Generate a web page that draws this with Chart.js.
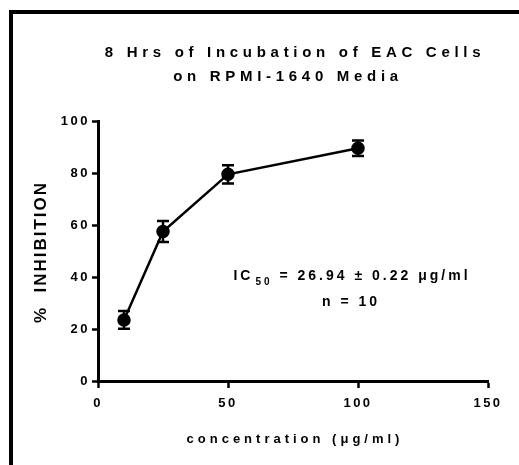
<!DOCTYPE html>
<html>
<head>
<meta charset="utf-8">
<script src="https://cdn.jsdelivr.net/npm/chart.js@4"></script>
<style>
  html, body { margin: 0; padding: 0; background: #fff; }
  #wrap { width: 519px; height: 465px; }
</style>
</head>
<body>
<div id="wrap"><canvas id="chart"></canvas></div>
<script>
const concentrations = [10, 25, 50, 100];
const inhibition = [23.5, 57.5, 79.5, 89.5];
const errors = [3.4, 4, 3.5, 3];

const xTicks = [0, 50, 100, 150];
const yTicks = [0, 20, 40, 60, 80, 100];

const titleLines = ['8 Hrs of Incubation of EAC Cells', 'on RPMI-1640 Media'];
const xLabel = 'concentration (μg/ml)';
const yLabel = '%  INHIBITION';
const icText = ['IC', '50', ' = 26.94 ± 0.22 μg/ml'];
const nText = 'n = 10';

const FONT = "'Liberation Sans', Arial, sans-serif";

// letter spacing for tick text (canvas state is reset on resize)
const spacing = {
  id: 'spacing',
  beforeLayout(chart) { chart.ctx.letterSpacing = '2.5px'; },
  beforeDraw(chart) { chart.ctx.letterSpacing = '2.5px'; }
};

const frame = {
  id: 'frame',
  beforeDraw(chart) {
    const ctx = chart.ctx;
    ctx.save();
    ctx.fillStyle = '#fff';
    ctx.fillRect(0, 0, chart.width, chart.height);
    ctx.strokeStyle = '#000';
    ctx.lineWidth = 4;
    ctx.beginPath();
    ctx.moveTo(11, chart.height);
    ctx.lineTo(11, 12);
    ctx.lineTo(chart.width, 12);
    ctx.stroke();
    ctx.restore();
  }
};

const errorBars = {
  id: 'errorBars',
  afterDatasetsDraw(chart) {
    const ctx = chart.ctx;
    const x = chart.scales.x, y = chart.scales.y;
    ctx.save();
    ctx.strokeStyle = '#000';
    ctx.lineWidth = 2.5;
    concentrations.forEach((c, i) => {
      const px = x.getPixelForValue(c);
      const top = y.getPixelForValue(inhibition[i] + errors[i]);
      const bot = y.getPixelForValue(inhibition[i] - errors[i]);
      ctx.beginPath();
      ctx.moveTo(px, top); ctx.lineTo(px, bot);
      ctx.moveTo(px - 6, top); ctx.lineTo(px + 6, top);
      ctx.moveTo(px - 6, bot); ctx.lineTo(px + 6, bot);
      ctx.stroke();
    });
    ctx.restore();
  }
};

const texts = {
  id: 'texts',
  afterDraw(chart) {
    const ctx = chart.ctx;
    const area = chart.chartArea;
    ctx.save();
    ctx.fillStyle = '#000';
    ctx.textBaseline = 'alphabetic';
    ctx.textAlign = 'center';

    // title
    ctx.letterSpacing = '4.7px';
    ctx.font = 'bold 15px ' + FONT;
    ctx.fillText(titleLines[0], 295, 57);
    ctx.fillText(titleLines[1], 288, 81);

    // x axis title
    ctx.letterSpacing = '4px';
    ctx.font = 'bold 13px ' + FONT;
    ctx.fillText(xLabel, (area.left + area.right) / 2 + 2, 443);

    // y axis title
    ctx.save();
    ctx.translate(46, (area.top + area.bottom) / 2 + 1);
    ctx.rotate(-Math.PI / 2);
    ctx.letterSpacing = '2px';
    ctx.font = 'bold 17px ' + FONT;
    ctx.fillText(yLabel, 0, 0);
    ctx.restore();

    // IC50 annotation, centred on x = 350
    ctx.textAlign = 'left';
    ctx.letterSpacing = '3px';
    const big = 'bold 14px ' + FONT, small = 'bold 10px ' + FONT;
    ctx.font = big;
    const w0 = ctx.measureText(icText[0]).width;
    const w2 = ctx.measureText(icText[2]).width;
    ctx.font = small;
    const w1 = ctx.measureText(icText[1]).width;
    let sx = 351 - (w0 + w1 + w2) / 2;
    ctx.font = big;
    ctx.fillText(icText[0], sx, 280);
    sx += w0 + 2;
    ctx.font = small;
    ctx.fillText(icText[1], sx, 285);
    sx += w1;
    ctx.font = big;
    ctx.fillText(icText[2], sx, 280);

    ctx.textAlign = 'center';
    ctx.fillText(nText, 351, 306);
    ctx.restore();
  }
};

new Chart(document.getElementById('chart'), {
  type: 'scatter',
  data: {
    datasets: [{
      data: concentrations.map((c, i) => ({ x: c, y: inhibition[i] })),
      showLine: true,
      borderColor: '#000',
      borderWidth: 2.5,
      backgroundColor: '#000',
      pointRadius: 5.5,
      pointHoverRadius: 5.5
    }]
  },
  options: {
    responsive: true,
    maintainAspectRatio: false,
    animation: false,
    layout: { padding: { left: 0, right: 31, top: 121, bottom: 0 } },
    plugins: { legend: { display: false }, tooltip: { enabled: false } },
    scales: {
      x: {
        type: 'linear',
        min: 0, max: 150,
        afterFit: (s) => { s.height = 84; },
        afterBuildTicks: (s) => { s.ticks = xTicks.map(v => ({ value: v })); },
        border: { color: '#000', width: 3 },
        grid: { drawOnChartArea: false, tickLength: 7, tickWidth: 2.5, tickColor: '#000' },
        ticks: { color: '#000', padding: 8, font: { family: FONT, size: 13, weight: 'bold' } }
      },
      y: {
        min: 0, max: 100,
        afterFit: (s) => { s.width = 98; },
        afterBuildTicks: (s) => { s.ticks = yTicks.map(v => ({ value: v })); },
        border: { color: '#000', width: 3 },
        grid: { drawOnChartArea: false, tickLength: 6, tickWidth: 2.5, tickColor: '#000' },
        ticks: { color: '#000', padding: 2, font: { family: FONT, size: 13, weight: 'bold' } }
      }
    }
  },
  plugins: [spacing, frame, errorBars, texts]
});
</script>
</body>
</html>
